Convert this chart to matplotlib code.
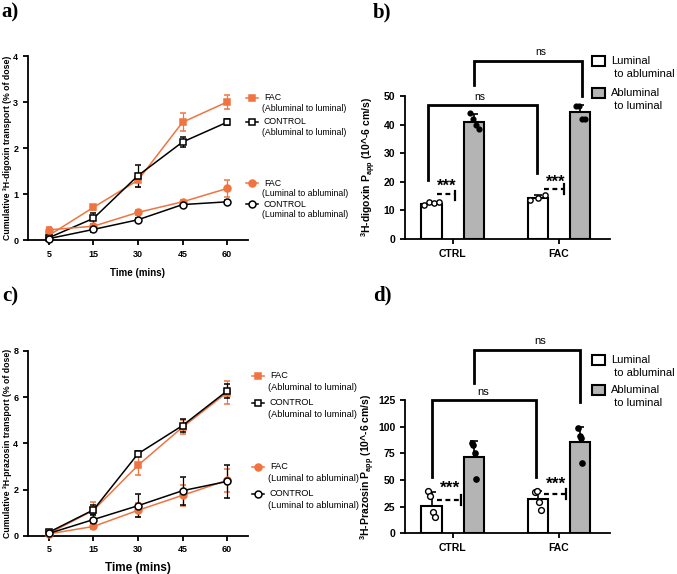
import matplotlib
matplotlib.use("Agg")
import matplotlib.pyplot as plt
import numpy as np
from matplotlib.lines import Line2D

plt.rcParams["font.family"] = ["Liberation Sans", "DejaVu Sans"]
plt.rcParams["mathtext.fontset"] = "custom"
plt.rcParams["mathtext.rm"] = "Liberation Sans:bold"
plt.rcParams["mathtext.bf"] = "Liberation Sans:bold"
plt.rcParams["mathtext.default"] = "bf"

ORANGE = "#ef7440"
GREY = "#b4b4b4"

# ---- data ----
times = ["5", "15", "30", "45", "60"]

dig_fac_al = [0.10, 0.71, 1.30, 2.56, 3.00]
dig_fac_al_err = [0.03, 0.05, 0.15, 0.20, 0.15]
dig_ctl_al = [0.05, 0.47, 1.40, 2.13, 2.56]
dig_ctl_al_err = [0.02, 0.12, 0.24, 0.10, 0.06]
dig_fac_la = [0.22, 0.30, 0.60, 0.83, 1.12]
dig_fac_la_err = [0.06, 0.04, 0.05, 0.04, 0.19]
dig_ctl_la = [0.03, 0.23, 0.44, 0.77, 0.83]
dig_ctl_la_err = [0.02, 0.05, 0.04, 0.04, 0.03]

pra_fac_al = [0.10, 1.10, 3.05, 4.70, 6.20]
pra_fac_al_err = [0.05, 0.35, 0.40, 0.30, 0.50]
pra_ctl_al = [0.15, 1.12, 3.55, 4.77, 6.27]
pra_ctl_al_err = [0.05, 0.20, 0.10, 0.30, 0.30]
pra_fac_la = [0.08, 0.40, 1.10, 1.75, 2.40]
pra_fac_la_err = [0.03, 0.10, 0.30, 0.45, 0.50]
pra_ctl_la = [0.10, 0.70, 1.30, 1.95, 2.35]
pra_ctl_la_err = [0.03, 0.20, 0.50, 0.60, 0.72]

groups = ["CTRL", "FAC"]
dig_la_mean = [12.3, 14.5]
dig_la_sd = [0.7, 1.0]
dig_al_mean = [41.0, 44.3]
dig_al_sd = [2.8, 2.6]
dig_la_pts = [[12.0, 13.0, 12.6, 12.8], [13.5, 14.5, 15.3]]
dig_al_pts = [[44.0, 42.0, 40.0, 38.5], [46.5, 46.5, 42.0, 42.0]]

pra_la_mean = [26.0, 32.0]
pra_la_sd = [13.0, 8.0]
pra_al_mean = [71.5, 86.0]
pra_al_sd = [15.0, 14.0]
pra_la_pts = [[39.5, 35.0, 20.0, 15.6], [39.0, 40.0, 29.7, 21.9]]
pra_al_pts = [[85.0, 82.8, 75.6, 50.6], [99.0, 91.6, 89.0, 66.3]]

W, H = 677, 574
fig = plt.figure(figsize=(W / 100, H / 100), dpi=100)


def px(x, y):
    return x / W, 1 - y / H


def make_ax(left, top, right, bottom):
    ax = fig.add_axes([left / W, 1 - bottom / H, (right - left) / W, (bottom - top) / H])
    for s in ["top", "right"]:
        ax.spines[s].set_visible(False)
    for s in ["left", "bottom"]:
        ax.spines[s].set_linewidth(1.3)
    ax.tick_params(width=1.3, length=3.5, direction="out")
    return ax


def style_ticks(ax, size):
    for lab in ax.get_xticklabels() + ax.get_yticklabels():
        lab.set_fontweight("bold")
        lab.set_fontsize(size)


def line_panel(ax, series, ylim, yticks, ylabel, xlab_size):
    x = np.arange(len(times))
    for vals, err, col, mk, face in series:
        ax.errorbar(x, vals, yerr=err, color=col, marker=mk, markersize=5,
                    markerfacecolor=face, markeredgecolor=col, markeredgewidth=1.1,
                    lw=1.1, capsize=2.5, elinewidth=0.9, clip_on=False, zorder=3)
    ax.set_xlim(-0.47, 4.47)
    ax.set_ylim(*ylim)
    ax.set_yticks(yticks)
    ax.set_xticks(x)
    ax.set_xticklabels(times)
    style_ticks(ax, 6.5)
    ax.set_ylabel(ylabel, fontsize=6.3, fontweight="bold")
    ax.yaxis.set_label_coords(-0.073, 0.5)
    ax.set_xlabel("Time (mins)", fontsize=xlab_size, fontweight="bold")


def manual_legend(entries, mx, tx, fs, gap):
    for y, col, mk, face, l1, l2 in entries:
        fig.add_artist(Line2D([px(mx - 6, 0)[0], px(mx + 6, 0)[0]], [px(0, y)[1]] * 2,
                              color=col, lw=1.1, marker=None))
        fig.add_artist(Line2D([px(mx, 0)[0]], [px(0, y)[1]], color=col, marker=mk,
                              markersize=5, markerfacecolor=face, markeredgecolor=col,
                              markeredgewidth=1.1))
        fig.text(*px(tx + 2, y), l1, fontsize=fs, va="center", ha="left")
        fig.text(*px(tx, y + gap), l2, fontsize=fs, va="center", ha="left")


def bar_panel(ax, la_mean, la_sd, al_mean, al_sd, la_pts, al_pts, ylim, yticks, ylabel,
              spread, msize):
    x = np.arange(len(groups))
    off, bw = 0.2, 0.19
    ax.bar(x - off, la_mean, bw, color="white", edgecolor="black", lw=1.5,
           yerr=[np.zeros(2), la_sd], capsize=3,
           error_kw=dict(elinewidth=1.2, capthick=1.2), zorder=2)
    ax.bar(x + off, al_mean, bw, color=GREY, edgecolor="black", lw=1.5,
           yerr=[np.zeros(2), al_sd], capsize=3,
           error_kw=dict(elinewidth=1.2, capthick=1.2), zorder=2)
    for i in range(len(groups)):
        jl = np.linspace(-spread, spread, len(la_pts[i]))
        ax.plot(x[i] - off + jl, la_pts[i], "o", ms=msize, mfc="white", mec="black",
                mew=1.0, zorder=4, clip_on=False)
        ja = np.linspace(-spread * 0.6, spread * 0.6, len(al_pts[i]))
        ax.plot(x[i] + off + ja, al_pts[i], "o", ms=msize * 0.9, mfc="black", mec="black",
                zorder=4, clip_on=False)
    ax.set_xlim(-0.45, 1.48)
    ax.set_ylim(*ylim)
    ax.set_yticks(yticks)
    ax.set_xticks(x)
    ax.set_xticklabels(groups)
    style_ticks(ax, 7.5)
    ax.set_ylabel(ylabel, fontsize=7.5, fontweight="bold")
    ax.yaxis.set_label_coords(-0.13, 0.5)
    return x, off


def bracket(ax, x0, x1, top, b0, b1):
    ax.plot([x0, x0, x1, x1], [b0, top, top, b1], color="black", lw=2.0, clip_on=False,
            solid_joinstyle="miter", zorder=5)


def stars(ax, tx, ty, d0, d1, dy, t0, t1, fs):
    ax.text(tx, ty, "***", ha="center", va="center", fontsize=fs, fontweight="bold")
    ax.plot([d0, d1], [dy, dy], color="black", lw=1.6, ls=(0, (2.2, 1.6)), clip_on=False)
    ax.plot([d1, d1], [t0, t1], color="black", lw=1.6, clip_on=False)


# ---- panel a ----
ax_a = make_ax(28, 56, 248, 240)
line_panel(ax_a, [
    (dig_fac_al, dig_fac_al_err, ORANGE, "s", ORANGE),
    (dig_ctl_al, dig_ctl_al_err, "black", "s", "white"),
    (dig_fac_la, dig_fac_la_err, ORANGE, "o", ORANGE),
    (dig_ctl_la, dig_ctl_la_err, "black", "o", "white"),
], (0, 4), [0, 1, 2, 3, 4], "Cumulative ³H-digoxin transport (% of dose)", 7)
ax_a.xaxis.set_label_coords(0.5, -0.152)
manual_legend([
    (97.7, ORANGE, "s", ORANGE, "FAC", "(Abluminal to luminal)"),
    (121.7, "black", "s", "white", "CONTROL", "(Abluminal to luminal)"),
    (183.3, ORANGE, "o", ORANGE, "FAC", "(Luminal to abluminal)"),
    (204.3, "black", "o", "white", "CONTROL", "(Luminal to abluminal)"),
], 252, 262, 6.3, 10.5)

# ---- panel c ----
ax_c = make_ax(28, 351, 248, 535.7)
line_panel(ax_c, [
    (pra_fac_al, pra_fac_al_err, ORANGE, "s", ORANGE),
    (pra_ctl_al, pra_ctl_al_err, "black", "s", "white"),
    (pra_fac_la, pra_fac_la_err, ORANGE, "o", ORANGE),
    (pra_ctl_la, pra_ctl_la_err, "black", "o", "white"),
], (0, 8), [0, 2, 4, 6, 8], "Cumulative ³H-prazosin transport (% of dose)", 8.5)
ax_c.xaxis.set_label_coords(0.5, -0.145)
manual_legend([
    (376, ORANGE, "s", ORANGE, "FAC", "(Abluminal to luminal)"),
    (402.7, "black", "s", "white", "CONTROL", "(Abluminal to luminal)"),
    (466.7, ORANGE, "o", ORANGE, "FAC", "(Luminal to abluminal)"),
    (494, "black", "o", "white", "CONTROL", "(Luminal to abluminal)"),
], 258, 268, 6.6, 11.8)

# ---- panel b ----
ax_b = make_ax(405, 96, 610, 239)
bar_panel(ax_b, dig_la_mean, dig_la_sd, dig_al_mean, dig_al_sd, dig_la_pts, dig_al_pts,
          (0, 50), [0, 10, 20, 30, 40, 50], "$^{3}$H-digoxin P$_{app}$ (10^-6 cm/s)",
          0.07, 3.8)
bracket(ax_b, -0.23, 0.79, 46.7, 20.6, 23.0)
bracket(ax_b, 0.2, 1.22, 62.2, 53.7, 49.9)
ax_b.text(0.25, 48.0, "ns", ha="center", va="bottom", fontsize=7.5)
ax_b.text(0.83, 63.5, "ns", ha="center", va="bottom", fontsize=7.5)
stars(ax_b, -0.06, 18.3, -0.15, 0.02, 15.6, 13.6, 16.8, 12)
stars(ax_b, 0.97, 19.9, 0.86, 1.05, 17.5, 15.7, 19.2, 12)

# ---- panel d ----
ax_d = make_ax(405, 400, 610, 533.3)
bar_panel(ax_d, pra_la_mean, pra_la_sd, pra_al_mean, pra_al_sd, pra_la_pts, pra_al_pts,
          (0, 125), [0, 25, 50, 75, 100, 125],
          "$^{3}$H-Prazosin P$_{app}$ (10^-6 cm/s)", 0.03, 4.2)
ax_d.yaxis.set_label_coords(-0.135, 0.5)
bracket(ax_d, -0.2, 0.78, 125, 53, 53)
bracket(ax_d, 0.2, 1.2, 171.9, 141, 123)
ax_d.text(0.29, 128, "ns", ha="center", va="bottom", fontsize=8)
ax_d.text(0.82, 176, "ns", ha="center", va="bottom", fontsize=8)
stars(ax_d, -0.03, 42, -0.15, 0.08, 31, 26.6, 35.9, 12.5)
stars(ax_d, 0.97, 46, 0.86, 1.07, 36.9, 32.2, 41.6, 12.5)

# bar legends
for ys, fs in [((61, 93), 8), ((360, 390), 8)]:
    for y, face, l1, l2 in [(ys[0], "white", "Luminal", " to abluminal"),
                            (ys[1], GREY, "Abluminal", " to luminal")]:
        x0, y0 = px(592, y + 5)
        fig.add_artist(plt.Rectangle((x0, y0), 13 / W, 10 / H, transform=fig.transFigure,
                                     facecolor=face, edgecolor="black", lw=1.5))
        fig.text(*px(611, y), l1, fontsize=fs, va="center", ha="left")
        fig.text(*px(611, y + 13), l2, fontsize=fs, va="center", ha="left")

# panel letters
for lab, (x, y) in zip(["a)", "b)", "c)", "d)"], [(1, 12), (373, 12), (2, 296), (373, 295)]):
    fig.text(*px(x, y), lab, fontsize=15, fontweight="bold", family="Liberation Serif",
             va="center", ha="left")

fig.savefig("out.png", dpi=100)
